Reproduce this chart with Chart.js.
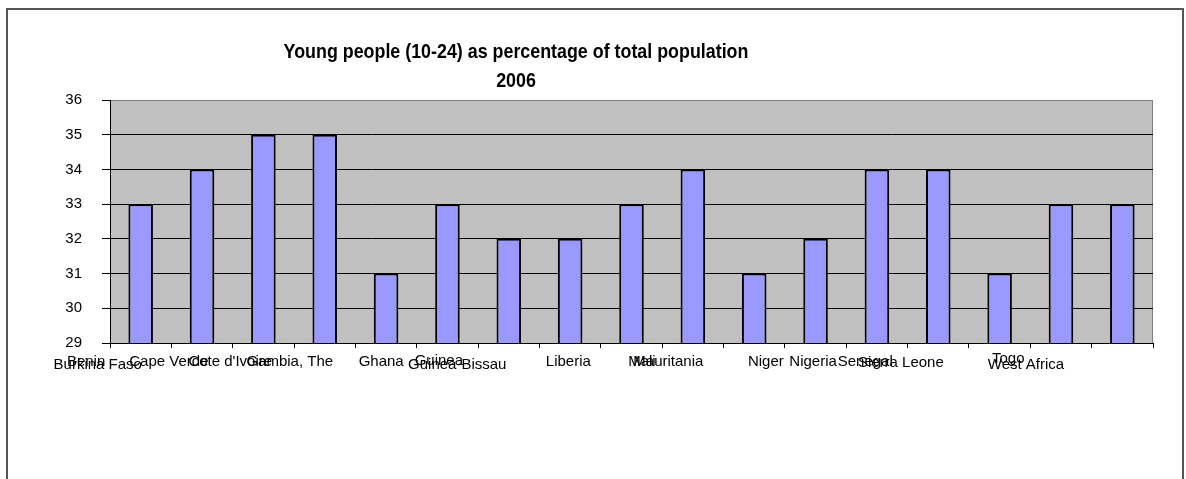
<!DOCTYPE html>
<html>
<head>
<meta charset="utf-8">
<title>Young people (10-24) as percentage of total population 2006</title>
<script src="https://cdn.jsdelivr.net/npm/chart.js@4.4.1/dist/chart.umd.min.js"></script>
<style>
  html, body { margin: 0; padding: 0; background: #fff; }
  body { width: 1186px; height: 479px; position: relative; overflow: hidden; }
  #frame {
    position: absolute; left: 6px; top: 8px; width: 1178px; height: 500px;
    border: 2px solid #555; box-sizing: border-box;
  }
  #wrap { position: absolute; left: 0; top: 0; width: 1186px; height: 479px; }
</style>
</head>
<body>
<div id="frame"></div>
<div id="wrap"><canvas id="chart" width="1186" height="479"></canvas></div>
<script>
// Countries of West Africa and the regional total
const countries = ['Benin', 'Burkina Faso', 'Cape Verde', "Cote d'Ivoire", 'Gambia, The',
  'Ghana', 'Guinea', 'Guinea-Bissau', 'Liberia', 'Mali', 'Mauritania', 'Niger',
  'Nigeria', 'Senegal', 'Sierra Leone', 'Togo', 'West Africa'];

// Share of the population aged 10-24, percent
const youthShare = [33, 34, 35, 35, 31, 33, 32, 32, 33, 34, 31, 32, 34, 34, 31, 33, 33];

// Value-axis ticks
const yTicks = [29, 30, 31, 32, 33, 34, 35, 36];

const titleLines = ['Young people (10-24) as percentage of total population', '2006'];

// Category-label layout: anchor in category units and small vertical nudges
const labelAnchor = [-0.89, -0.70, 0.46, 1.46, 2.43, 3.92, 4.86, 5.16, 6.97,
  8.17, 8.60, 10.19, 10.96, 11.81, 12.39, 14.14, 14.43];
const labelNudge = [0, 3, 0, 0, 0, 0, -1, 3, 0, 0, 0, 0, 0, 0, 1, -3, 3];

const FONT = "'Liberation Sans', Arial, sans-serif";

const plotBackground = {
  id: 'plotBackground',
  beforeDraw(chart) {
    const { ctx, chartArea: a } = chart;
    ctx.save();
    ctx.fillStyle = '#c0c0c0';
    ctx.fillRect(a.left, a.top, a.right - a.left, a.bottom - a.top);
    ctx.strokeStyle = '#808080';
    ctx.lineWidth = 1;
    ctx.beginPath();
    ctx.moveTo(Math.round(a.left) + 0.5, Math.round(a.top) + 0.5);
    ctx.lineTo(Math.round(a.right) - 0.5, Math.round(a.top) + 0.5);
    ctx.lineTo(Math.round(a.right) - 0.5, Math.round(a.bottom));
    ctx.stroke();
    ctx.restore();
  }
};

const categoryLabels = {
  id: 'categoryLabels',
  afterDraw(chart) {
    const { ctx, chartArea: a } = chart;
    const xs = chart.scales.x;
    ctx.save();
    ctx.font = '15px ' + FONT;
    ctx.fillStyle = '#000';
    ctx.textAlign = 'center';
    ctx.textBaseline = 'alphabetic';
    countries.forEach((name, i) => {
      const x = xs.getPixelForValue(labelAnchor[i]);
      ctx.fillText(name, x, a.bottom + 23 + labelNudge[i]);
    });
    ctx.restore();
  }
};

const narrowTitle = {
  id: 'narrowTitle',
  afterDraw(chart) {
    const { ctx } = chart;
    ctx.save();
    ctx.font = 'bold 21px ' + FONT;
    ctx.fillStyle = '#000';
    ctx.textAlign = 'center';
    ctx.textBaseline = 'alphabetic';
    titleLines.forEach((line, i) => {
      ctx.save();
      ctx.translate(516, 58 + i * 29);
      ctx.scale(0.85, 1);
      ctx.fillText(line, 0, 0);
      ctx.restore();
    });
    ctx.restore();
  }
};

new Chart(document.getElementById('chart'), {
  type: 'bar',
  data: {
    labels: countries,
    datasets: [{
      data: youthShare,
      backgroundColor: '#9999ff',
      borderColor: '#000',
      borderWidth: 2,
      borderSkipped: false,
      barPercentage: 0.4,
      categoryPercentage: 1
    }]
  },
  options: {
    responsive: false,
    animation: false,
    events: [],
    layout: { padding: { left: 0, right: 33, top: 100, bottom: 0 } },
    plugins: {
      legend: { display: false },
      title: { display: false },
      tooltip: { enabled: false }
    },
    scales: {
      x: {
        offset: true,
        ticks: { display: false },
        grid: { drawOnChartArea: false, offset: true, tickLength: 5, color: '#000', lineWidth: 1 },
        border: { color: '#000', width: 1 },
        afterFit(s) { s.height = 136; }
      },
      y: {
        min: yTicks[0],
        max: yTicks[yTicks.length - 1],
        afterBuildTicks(s) { s.ticks = yTicks.map(v => ({ value: v })); },
        ticks: {
          color: '#000',
          padding: 20,
          font: { family: FONT, size: 15 }
        },
        grid: {
          color: c => (c.tick && c.tick.value === yTicks[yTicks.length - 1]) ? '#808080' : '#000',
          tickColor: '#000',
          tickLength: 8,
          lineWidth: 1
        },
        border: { color: '#000', width: 1 },
        afterFit(s) { s.width = 110; }
      }
    }
  },
  plugins: [plotBackground, categoryLabels, narrowTitle]
});
</script>
</body>
</html>
